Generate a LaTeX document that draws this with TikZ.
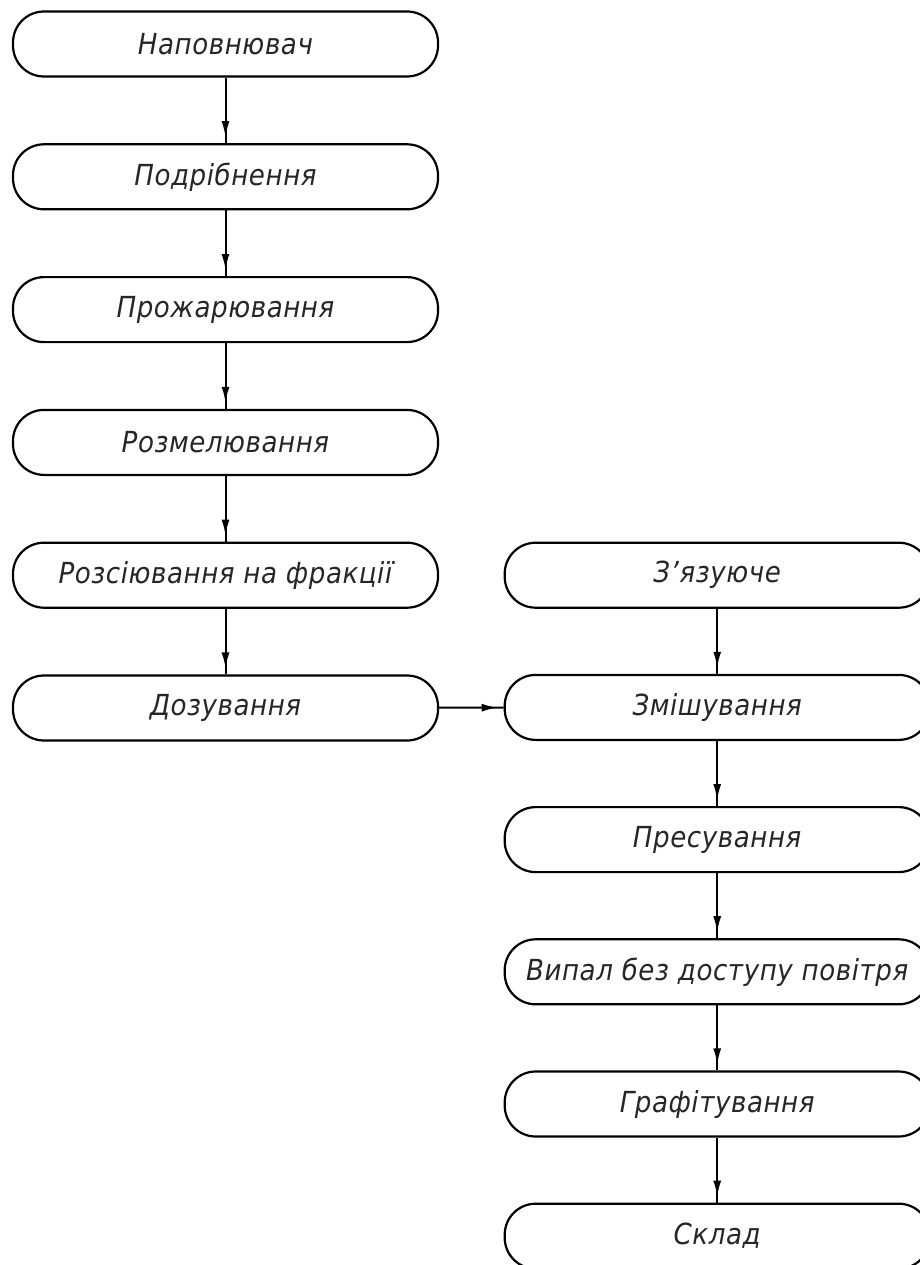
\documentclass[tikz,border=0pt]{standalone}
\usepackage{fontspec}
\setmainfont{DejaVu Sans Condensed}[LetterSpace=2]
\usepackage{tikz}
\usetikzlibrary{arrows.meta,positioning,decorations.markings}

\begin{document}
\begin{tikzpicture}[
    x=1pt, y=-1pt,
    every node/.style={font=\fontsize{29}{34}\selectfont\itshape, text=black!85},
    stage/.style={draw, rectangle, rounded corners=31pt, minimum height=65pt, minimum width=425pt, align=center, line width=2.2pt, inner sep=0pt},
    flow/.style={line width=2pt, postaction={decorate}, decoration={markings, mark=at position 1 with {\arrow[xshift=-6pt]{Latex[length=16pt,width=8pt]}}}},
    node distance=65.6pt
]
\useasboundingbox (0,0) rectangle (920,1265);

% --- Left column: preparation of filler ---
\node[stage] (nap) at (225.5,44) {Наповнювач};
\node[stage, below=of nap] (podr) {Подрібнення};
\node[stage, below=of podr] (prozh) {Прожарювання};
\node[stage, below=of prozh] (rozm) {Розмелювання};
\node[stage, below=of rozm] (rozs) {Розсіювання на фракції};
\node[stage, below=of rozs] (doz) {Дозування};

% --- Right column: binder, mixing and firing ---
\node[stage, right=64.5pt of rozs] (zvyaz) {З’язуюче};
\node[stage, below=65pt of zvyaz] (zmish) {Змішування};
\node[stage, below=65pt of zmish] (pres) {Пресування};
\node[stage, below=65pt of pres] (vypal) {Випал без доступу повітря};
\node[stage, below=65pt of vypal] (graf) {Графітування};
\node[stage, below=65pt of graf] (sklad) {Склад};

% --- Edges ---
\draw[flow] (nap) -- (podr);
\draw[flow] (podr) -- (prozh);
\draw[flow] (prozh) -- (rozm);
\draw[flow] (rozm) -- (rozs);
\draw[flow] (rozs) -- (doz);
\draw[flow] (doz) -- (zmish);
\draw[flow] (zvyaz) -- (zmish);
\draw[flow] (zmish) -- (pres);
\draw[flow] (pres) -- (vypal);
\draw[flow] (vypal) -- (graf);
\draw[flow] (graf) -- (sklad);
\end{tikzpicture}
\end{document}
